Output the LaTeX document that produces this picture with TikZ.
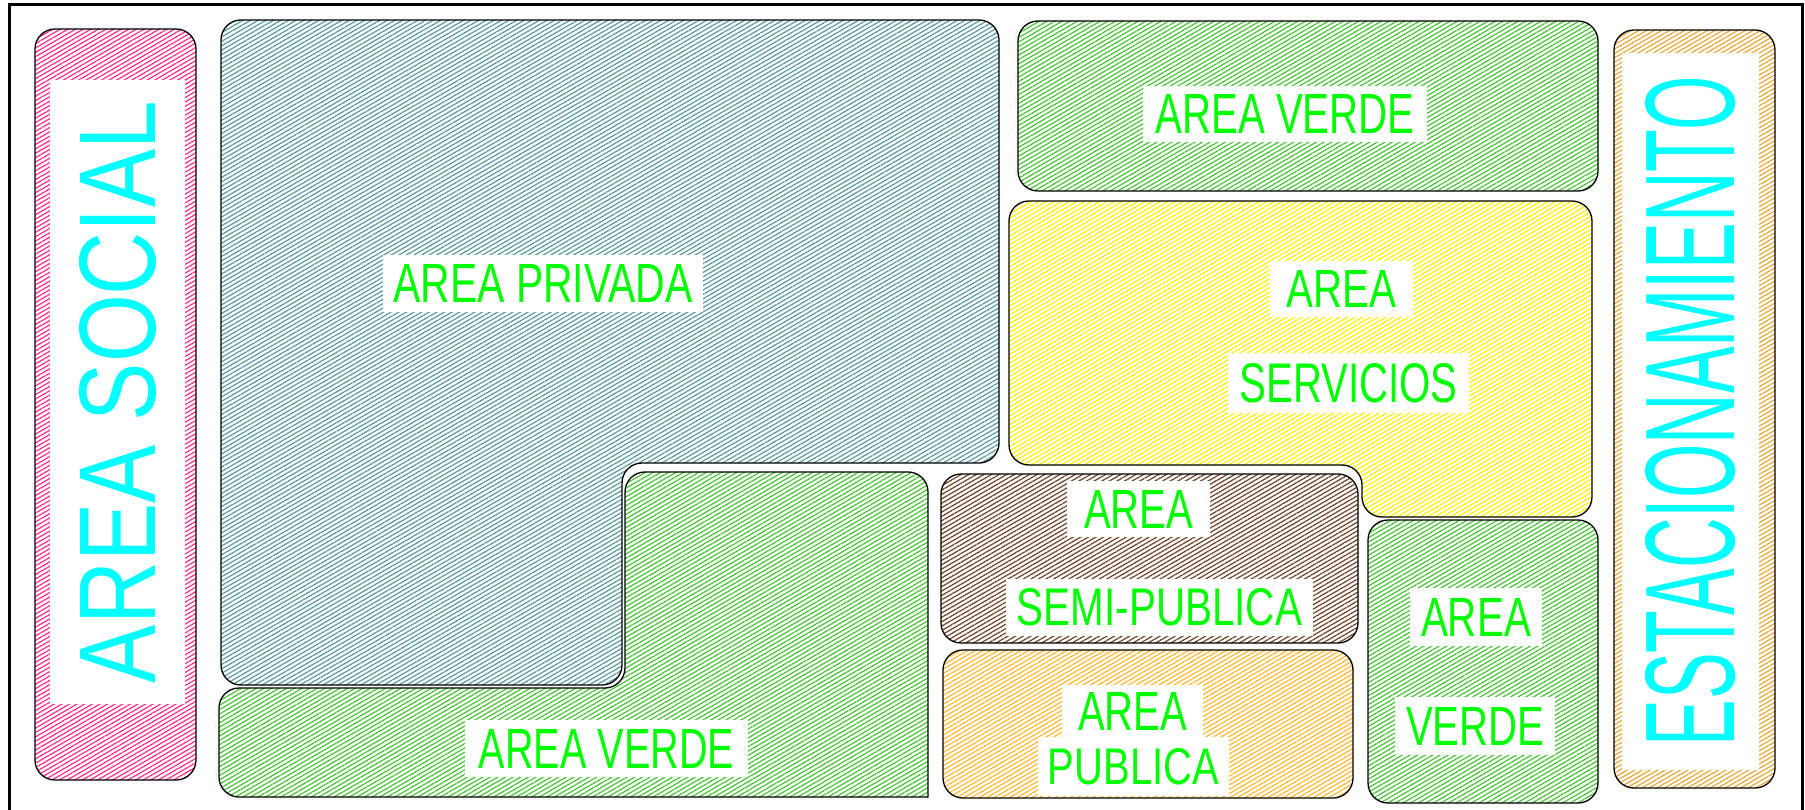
\documentclass[tikz,border=0pt]{standalone}
\usepackage{fontspec}
\setmainfont{Liberation Sans}
\usepackage{graphicx}
\usetikzlibrary{patterns.meta}
\definecolor{Rosa}{HTML}{FF2D8C}
\definecolor{Pizarra}{HTML}{5A9AA0}
\definecolor{Hoja}{HTML}{48C436}
\definecolor{Limon}{HTML}{FFF000}
\definecolor{Tierra}{HTML}{70442A}
\definecolor{Ambar}{HTML}{FFB830}
\definecolor{Arena}{HTML}{E8A838}
\definecolor{Verdor}{HTML}{00FF00}
\definecolor{Celeste}{HTML}{00FFFF}

\begin{document}
\begin{tikzpicture}[x=1pt,y=-1pt,
    zone/.style={draw=black,line width=1.3pt,rounded corners=20pt,
      pattern={Lines[angle=30,distance=3.8pt,line width=1.25pt]},pattern color=#1},
    tag/.style={fill=white,inner sep=0pt,text=Verdor},
    bigtag/.style={tag,rotate=90,text=Celeste}]
  \useasboundingbox (0,0) rectangle (1805,810);
  \draw[line width=3pt] (9,810) -- (9,5) -- (1802,5) -- (1802,810);
  % zonas
  \path[zone=Rosa] (35,29) rectangle (196,780);
  \path[zone=Pizarra] (221,20) -- (999,20) -- (999,463) -- (622,463) -- (622,685) -- (221,685) -- cycle;
  \path[zone=Hoja] (219,688) -- (625,688) -- (625,472) -- (928,472) [sharp corners] -- (928,797)
    [rounded corners=20pt] -- (219,797) -- cycle;
  \path[zone=Hoja] (1018,21) rectangle (1598,191);
  \path[zone=Limon] (1009,201) -- (1592,201) -- (1592,517) -- (1362,517) -- (1362,465) -- (1009,465) -- cycle;
  \path[zone=Tierra] (941,474) rectangle (1358,643);
  \path[zone=Ambar] (943,650) rectangle (1353,798);
  \path[zone=Hoja] (1368,520) rectangle (1598,803);
  \path[zone=Arena] (1614,30) rectangle (1775,788);
  % rotulos
  \node[bigtag,minimum width=624,minimum height=135] (social) at (117.5,392) {\resizebox{582pt}{76pt}{AREA SOCIAL}};
  \node[bigtag,minimum width=717,minimum height=137] (estac) at (1690.5,411.5) {\resizebox{670pt}{89pt}{ESTACIONAMIENTO}};
  \node[tag,minimum width=320,minimum height=57] (privada) at (543,283.5) {\resizebox{299pt}{38pt}{AREA PRIVADA}};
  \node[tag,minimum width=284,minimum height=56] (verdeA) at (1285,114) {\resizebox{259pt}{39pt}{AREA VERDE}};
  \node[tag,minimum width=143,minimum height=56] (servA) at (1341.5,289) {\resizebox{110pt}{37pt}{AREA}};
  \node[tag,minimum width=241,minimum height=60] (servB) at (1348.5,383) {\resizebox{218pt}{39pt}{SERVICIOS}};
  \node[tag,minimum width=143,minimum height=56] (semiA) at (1138.5,509) {\resizebox{109pt}{38pt}{AREA}};
  \node[tag,minimum width=307,minimum height=57] (semiB) at (1159.5,607.5) {\resizebox{285pt}{37pt}{SEMI-PUBLICA}};
  \node[tag,minimum width=141,minimum height=52] (pubA) at (1132.5,711) {\resizebox{109pt}{38pt}{AREA}};
  \node[tag,minimum width=191,minimum height=59] (pubB) at (1133.5,766.5) {\resizebox{171pt}{36pt}{PUBLICA}};
  \node[tag,minimum width=132,minimum height=58] (verdeB) at (1476,617) {\resizebox{110pt}{38pt}{AREA}};
  \node[tag,minimum width=160,minimum height=58] (verdeC) at (1475,726) {\resizebox{138pt}{38pt}{VERDE}};
  \node[tag,minimum width=283,minimum height=57] (verdeD) at (606.5,748.5) {\resizebox{255pt}{39pt}{AREA VERDE}};
\end{tikzpicture}
\end{document}
